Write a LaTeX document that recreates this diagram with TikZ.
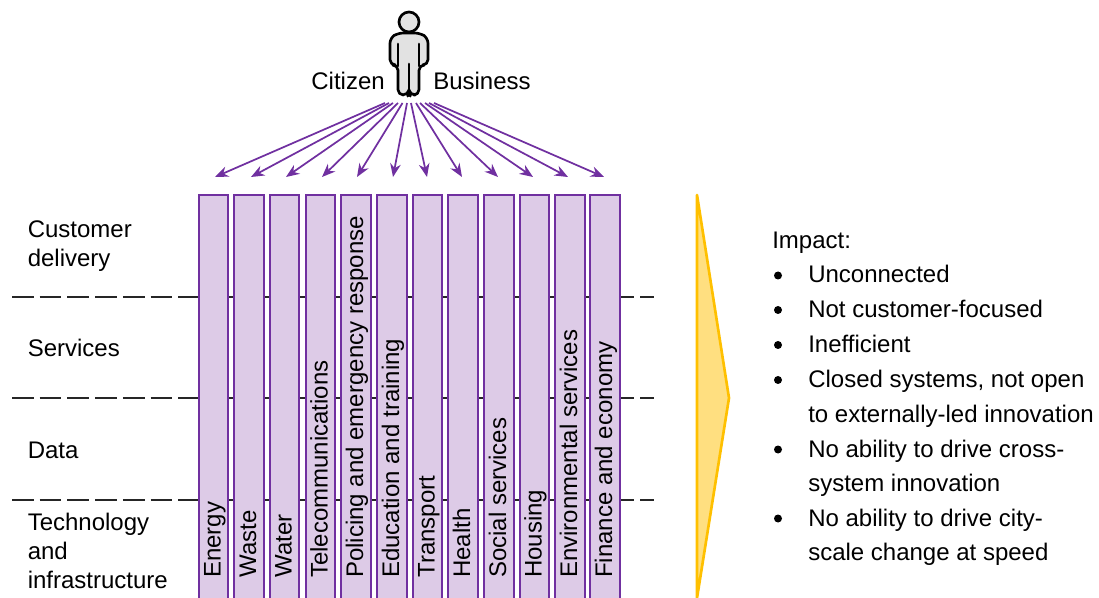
\documentclass[tikz,border=0pt]{standalone}
\usepackage{fontspec}
\setmainfont{Liberation Sans}
\usetikzlibrary{arrows.meta, positioning}

\definecolor{PurpleLine}{HTML}{7030A0}
\definecolor{PurpleFill}{HTML}{DDCBE7}
\definecolor{GoldLine}{HTML}{FFC000}
\definecolor{GoldFill}{HTML}{FFDF80}
\definecolor{PersonFill}{HTML}{E2E2E2}

\begin{document}
\begin{tikzpicture}[
        x=0.75pt, y=-0.75pt,
        Column/.style={rectangle, draw=PurpleLine, fill=PurpleFill, line width=1.5pt, minimum width=22pt, minimum height=305pt, inner sep=0pt, anchor=north},
        ColumnText/.style={rotate=90, anchor=base west, inner sep=0pt, font=\fontsize{18}{20}\selectfont},
        Layer/.style={anchor=west, align=left, inner sep=0pt, font=\fontsize{18}{21.5}\selectfont},
        Label/.style={inner sep=0pt, font=\fontsize{18}{21}\selectfont},
        ListText/.style={anchor=base west, inner sep=0pt, font=\fontsize{18}{21}\selectfont},
        Bullet/.style={circle, fill=black, minimum size=6pt, inner sep=0pt},
        Feed/.style={-{Stealth[length=10pt, width=8pt]}, PurpleLine, line width=1.3pt},
        DividerLeft/.style={black!85, line width=1.25pt, dash pattern=on 16.3pt off 4.5pt},
        DividerRight/.style={black!85, line width=1.25pt, dash pattern=on 10.5pt off 4.5pt},
        Person/.style={draw=black, fill=PersonFill, line width=2pt, line join=round}
    ]

    \useasboundingbox (0,0) rectangle (1099,598);

    % Layer dividers, behind the columns
    \foreach \y/\name in {297/One, 398/Two, 500/Three} {
        \coordinate (DivL\name) at (12,\y);
        \coordinate (DivA\name) at (200,\y);
        \coordinate (DivB\name) at (620,\y);
        \coordinate (DivR\name) at (655,\y);
        \draw[DividerLeft] (DivL\name) -- (DivA\name);
        \draw[black!85, line width=1.25pt] (DivA\name) -- (DivB\name);
        \draw[DividerRight] (DivB\name) -- (DivR\name);
    }

    % Vertical silos
    \foreach \x/\name/\txt in {
        213.5/Energy/Energy, 249/Waste/Waste, 284.5/Water/Water,
        320.5/Tele/Telecommunications, 356/Police/Policing and emergency response,
        392/Edu/Education and training, 427.5/Transport/Transport, 463/Health/Health,
        499/Social/Social services, 534.5/Housing/Housing,
        570/Env/Environmental services, 605/Finance/Finance and economy} {
        \node (\name) [Column] at (\x,194) {};
        \node (\name Text) [ColumnText] at (\x+7,578) {\txt};
    }

    % Layer labels
    \node (Customer) [Layer] at (27.5,246) {Customer\\delivery};
    \node (Services) [Layer] at (27.5,348) {Services};
    \node (Data) [Layer] at (27.5,450) {Data};
    \node (Technology) [Layer] at (27.5,551) {Technology\\and\\infrastructure};

    % Person
    \node (Head) [circle, draw=black, fill=PersonFill, line width=2pt, minimum size=15pt, inner sep=0pt] at (409,22) {};
    \draw[Person, rounded corners=4pt] (398,33) -- (420,33) -- (428,38) -- (428,65) -- (419,65) -- (419,95) -- (410,95) -- (409,91) -- (408,95) -- (398,95) -- (398,65) -- (390,65) -- (390,38) -- cycle;
    \draw[line width=2pt, line cap=round] (398,44) -- (398,66);
    \draw[line width=2pt, line cap=round] (419,44) -- (419,66);
    \draw[line width=2pt, line cap=round] (409,64) -- (409,91);

    \node (Citizen) [Label, anchor=base east] at (385,90) {Citizen};
    \node (Business) [Label, anchor=base west] at (433,90) {Business};

    % Arrows from the person down to the silos
    \foreach \a/\b/\n in {385/215/1, 389/251/2, 393/286/3, 398/322/4, 402.5/357/5, 407/393/6,
                          411/427/7, 416/462/8, 420/498/9, 425/533/10, 429/568/11, 434/604/12} {
        \coordinate (From\n) at (\a,103);
        \coordinate (To\n) at (\b,177);
        \draw[Feed] (From\n) -- (To\n);
    }

    % Impact arrow
    \coordinate (ArrowTop) at (697,195);
    \coordinate (ArrowTip) at (729,398);
    \coordinate (ArrowEnd) at (697,598);
    \draw[draw=GoldLine, fill=GoldFill, line width=2pt, line join=round] (ArrowTop) -- (ArrowTip) -- (ArrowEnd) -- cycle;

    % Impact list
    \node (Impact) [ListText] at (772,249) {Impact:};
    \foreach \y/\n/\txt in {
        283/1/Unconnected, 317.5/2/Not customer-focused, 352.5/3/Inefficient} {
        \node (Bullet\n) [Bullet] at (778,\y-7.5) {};
        \node (Item\n) [ListText] at (808,\y) {\txt};
    }
    \node (Bullet4) [Bullet] at (778,380) {};
    \node (Item4) [ListText] at (808,387.5) {Closed systems, not open};
    \node (Item4b) [ListText] at (808,422) {to externally-led innovation};
    \node (Bullet5) [Bullet] at (778,449.5) {};
    \node (Item5) [ListText] at (808,457) {No ability to drive cross-};
    \node (Item5b) [ListText] at (808,491.5) {system innovation};
    \node (Bullet6) [Bullet] at (778,518.5) {};
    \node (Item6) [ListText] at (808,526) {No ability to drive city-};
    \node (Item6b) [ListText] at (808,560.5) {scale change at speed};

\end{tikzpicture}
\end{document}
